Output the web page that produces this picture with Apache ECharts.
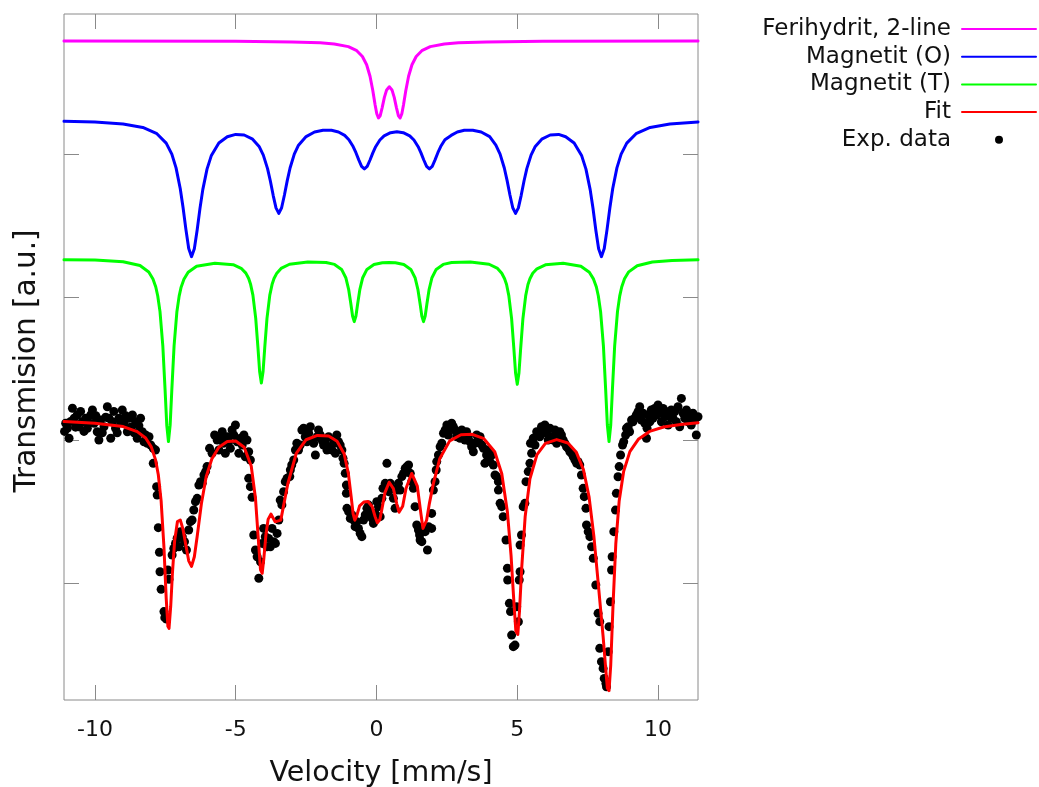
<!DOCTYPE html>
<html>
<head>
<meta charset="utf-8">
<script src="https://cdn.jsdelivr.net/npm/echarts@6/dist/echarts.min.js"></script>
<style>
html,body{margin:0;padding:0;background:#ffffff;}
#chart{width:1039px;height:787px;}
</style>
</head>
<body>
<div id="chart"></div>
<script>
// ---------- data (velocity [mm/s], transmission [a.u.]) ----------
const xTickValues = [-10, -5, 0, 5, 10];
const yTickValues = [0, 1, 2, 3];
const seriesNames = ['Ferihydrit, 2-line', 'Magnetit (O)', 'Magnetit (T)', 'Fit', 'Exp. data'];

const ferihydrit = [[-11.1,3.7895],[-5,3.7876],[-3,3.7839],[-2,3.7776],[-1.5,3.7697],[-1.0,3.7507],[-0.7,3.7224],[-0.5,3.6822],[-0.35,3.6244],[-0.23,3.5439],[-0.13,3.442],[-0.05,3.3441],[0.01,3.2814],[0.07,3.2519],[0.13,3.2665],[0.2,3.323],[0.28,3.3964],[0.36,3.4482],[0.455,3.4702],[0.55,3.4482],[0.63,3.3964],[0.71,3.323],[0.78,3.2665],[0.84,3.2519],[0.9,3.2814],[0.96,3.3441],[1.04,3.442],[1.14,3.5439],[1.26,3.6244],[1.41,3.6822],[1.61,3.7224],[1.91,3.7507],[2.41,3.7697],[2.91,3.7776],[3.91,3.7839],[5.91,3.7876],[11.42,3.7895]];

const magnetitO = [[-11.1,3.2295],[-10,3.223],[-9,3.210],[-8.3,3.1855],[-7.8,3.142],[-7.47,3.076],[-7.27,2.999],[-7.12,2.903],[-6.97,2.757],[-6.87,2.624],[-6.77,2.473],[-6.67,2.339],[-6.57,2.282],[-6.47,2.337],[-6.37,2.469],[-6.27,2.620],[-6.17,2.751],[-6.02,2.894],[-5.87,2.987],[-5.6,3.077],[-5.3,3.121],[-5.0,3.137],[-4.7,3.133],[-4.4,3.104],[-4.17,3.053],[-4.02,2.992],[-3.87,2.898],[-3.77,2.811],[-3.67,2.711],[-3.57,2.623],[-3.47,2.585],[-3.37,2.624],[-3.27,2.713],[-3.17,2.814],[-3.07,2.902],[-2.92,2.999],[-2.77,3.062],[-2.5,3.122],[-2.2,3.154],[-1.9,3.166],[-1.6,3.166],[-1.35,3.154],[-1.13,3.130],[-0.98,3.100],[-0.83,3.052],[-0.73,3.009],[-0.63,2.959],[-0.53,2.914],[-0.43,2.896],[-0.33,2.914],[-0.23,2.958],[-0.13,3.008],[-0.03,3.051],[0.12,3.098],[0.27,3.127],[0.5,3.149],[0.725,3.155],[0.95,3.149],[1.18,3.127],[1.33,3.098],[1.48,3.051],[1.58,3.008],[1.68,2.958],[1.78,2.914],[1.88,2.896],[1.98,2.914],[2.08,2.959],[2.18,3.009],[2.28,3.052],[2.43,3.100],[2.65,3.130],[2.87,3.154],[3.12,3.166],[3.42,3.166],[3.72,3.154],[4.02,3.122],[4.24,3.062],[4.39,2.999],[4.54,2.902],[4.64,2.814],[4.74,2.713],[4.84,2.624],[4.94,2.585],[5.04,2.623],[5.14,2.711],[5.24,2.811],[5.34,2.898],[5.49,2.992],[5.64,3.053],[5.87,3.104],[6.17,3.133],[6.47,3.137],[6.72,3.121],[7.02,3.077],[7.29,2.987],[7.44,2.894],[7.59,2.751],[7.69,2.620],[7.79,2.469],[7.89,2.337],[7.99,2.282],[8.09,2.339],[8.19,2.473],[8.29,2.624],[8.39,2.757],[8.54,2.903],[8.69,2.999],[8.89,3.076],[9.22,3.142],[9.72,3.186],[10.42,3.210],[11.42,3.224]];

const magnetitT = [[-11.1,2.261],[-10.0,2.258],[-9.0,2.246],[-8.4,2.220],[-8.09,2.175],[-7.94,2.126],[-7.84,2.070],[-7.77,2.007],[-7.69,1.898],[-7.59,1.659],[-7.51,1.352],[-7.45,1.105],[-7.39,0.989],[-7.33,1.104],[-7.27,1.351],[-7.19,1.658],[-7.09,1.897],[-7.01,2.006],[-6.94,2.069],[-6.84,2.124],[-6.69,2.173],[-6.39,2.215],[-5.74,2.236],[-5.09,2.226],[-4.79,2.198],[-4.64,2.167],[-4.54,2.129],[-4.47,2.087],[-4.39,2.013],[-4.29,1.851],[-4.21,1.644],[-4.15,1.477],[-4.09,1.399],[-4.03,1.477],[-3.97,1.644],[-3.89,1.851],[-3.79,2.013],[-3.71,2.087],[-3.64,2.129],[-3.54,2.167],[-3.39,2.200],[-3.09,2.229],[-2.44,2.245],[-1.79,2.241],[-1.49,2.228],[-1.24,2.193],[-1.09,2.135],[-0.99,2.054],[-0.91,1.951],[-0.85,1.867],[-0.79,1.828],[-0.73,1.867],[-0.67,1.951],[-0.59,2.054],[-0.49,2.135],[-0.34,2.193],[-0.09,2.227],[0.21,2.240],[0.44,2.241],[0.67,2.240],[0.97,2.227],[1.22,2.193],[1.37,2.135],[1.47,2.054],[1.55,1.951],[1.61,1.867],[1.67,1.828],[1.73,1.867],[1.79,1.951],[1.87,2.054],[1.97,2.135],[2.12,2.193],[2.37,2.228],[2.67,2.241],[3.335,2.245],[4.0,2.229],[4.3,2.200],[4.45,2.166],[4.55,2.128],[4.62,2.087],[4.7,2.010],[4.8,1.847],[4.88,1.637],[4.94,1.468],[5.0,1.389],[5.06,1.468],[5.12,1.637],[5.2,1.847],[5.3,2.010],[5.38,2.087],[5.45,2.128],[5.55,2.166],[5.7,2.197],[6.0,2.225],[6.63,2.236],[7.26,2.215],[7.56,2.173],[7.71,2.125],[7.81,2.070],[7.88,2.007],[7.96,1.898],[8.06,1.659],[8.14,1.352],[8.2,1.105],[8.26,0.989],[8.32,1.105],[8.38,1.352],[8.46,1.659],[8.56,1.898],[8.64,2.008],[8.71,2.070],[8.81,2.127],[8.96,2.176],[9.26,2.219],[9.8,2.245],[10.5,2.255],[11.42,2.260]];

const fit = [[-11.1,1.129],[-10,1.118],[-9,1.094],[-8.5,1.059],[-8.2,1.014],[-8.0,0.952],[-7.85,0.863],[-7.75,0.757],[-7.65,0.575],[-7.55,0.252],[-7.47,-0.106],[-7.41,-0.303],[-7.37,-0.317],[-7.31,-0.164],[-7.25,0.063],[-7.17,0.296],[-7.07,0.430],[-6.97,0.441],[-6.87,0.373],[-6.77,0.263],[-6.67,0.155],[-6.57,0.116],[-6.47,0.184],[-6.37,0.325],[-6.22,0.554],[-6.05,0.743],[-5.85,0.867],[-5.6,0.950],[-5.3,0.989],[-5.0,0.993],[-4.7,0.950],[-4.45,0.818],[-4.3,0.595],[-4.2,0.313],[-4.12,0.092],[-4.06,0.068],[-4.0,0.175],[-3.93,0.332],[-3.85,0.445],[-3.75,0.482],[-3.6,0.428],[-3.4,0.440],[-3.15,0.694],[-2.85,0.907],[-2.5,1.002],[-2.1,1.032],[-1.7,1.028],[-1.4,0.992],[-1.15,0.904],[-1.0,0.767],[-0.9,0.604],[-0.83,0.484],[-0.77,0.439],[-0.7,0.471],[-0.6,0.540],[-0.45,0.566],[-0.3,0.570],[-0.15,0.533],[-0.05,0.465],[0.03,0.421],[0.07,0.420],[0.12,0.444],[0.2,0.525],[0.3,0.632],[0.45,0.705],[0.6,0.660],[0.72,0.554],[0.8,0.495],[0.86,0.491],[0.93,0.537],[1.05,0.663],[1.25,0.766],[1.45,0.677],[1.58,0.481],[1.65,0.382],[1.71,0.372],[1.78,0.439],[1.88,0.557],[2.02,0.695],[2.25,0.871],[2.6,0.994],[3.0,1.037],[3.4,1.040],[3.8,1.012],[4.2,0.918],[4.45,0.764],[4.65,0.497],[4.78,0.192],[4.88,-0.132],[4.95,-0.336],[5.02,-0.360],[5.08,-0.195],[5.16,0.112],[5.28,0.463],[5.45,0.728],[5.7,0.898],[6.0,0.977],[6.4,1.003],[6.8,0.979],[7.1,0.914],[7.35,0.793],[7.55,0.603],[7.72,0.329],[7.85,0.053],[7.95,-0.162],[8.05,-0.375],[8.13,-0.570],[8.2,-0.735],[8.26,-0.752],[8.32,-0.575],[8.4,-0.163],[8.5,0.273],[8.62,0.574],[8.78,0.781],[9.0,0.919],[9.3,1.005],[9.7,1.060],[10.2,1.091],[10.8,1.109],[11.42,1.121]];

const expData = [[-11.08,1.06],[-11.04,1.117],[-10.98,1.082],[-10.92,1.012],[-10.86,1.13],[-10.80,1.222],[-10.74,1.152],[-10.69,1.09],[-10.63,1.175],[-10.57,1.093],[-10.51,1.20],[-10.45,1.128],[-10.39,1.06],[-10.33,1.152],[-10.27,1.082],[-10.21,1.12],[-10.15,1.175],[-10.09,1.210],[-10.03,1.117],[-9.97,1.17],[-9.92,1.058],[-9.86,1.000],[-9.80,1.140],[-9.74,1.05],[-9.68,1.093],[-9.62,1.16],[-9.56,1.233],[-9.50,1.152],[-9.44,1.012],[-9.38,1.128],[-9.33,1.20],[-9.27,1.082],[-9.21,1.05],[-9.15,1.152],[-9.09,1.12],[-9.03,1.210],[-8.97,1.117],[-8.91,1.17],[-8.85,1.058],[-8.79,1.152],[-8.73,1.09],[-8.67,1.175],[-8.61,1.05],[-8.56,1.128],[-8.50,1.012],[-8.44,1.10],[-8.38,1.152],[-8.32,1.058],[-8.26,0.988],[-8.20,1.035],[-8.14,0.977],[-8.08,1.023],[-8.02,0.965],[-7.93,0.942],[-7.85,0.930],[-7.93,0.837],[-7.81,0.674],[-7.79,0.615],[-7.75,0.387],[-7.71,0.215],[-7.69,0.079],[-7.65,-0.044],[-7.55,-0.200],[-7.52,-0.242],[-7.46,-0.252],[-7.41,0.091],[-7.37,0.026],[-7.26,0.196],[-7.20,0.242],[-7.14,0.277],[-7.08,0.313],[-7.02,0.254],[-6.96,0.359],[-6.90,0.324],[-6.82,0.289],[-6.75,0.231],[-6.67,0.371],[-6.61,0.429],[-6.55,0.441],[-6.49,0.511],[-6.43,0.569],[-6.37,0.592],[-6.31,0.685],[-6.25,0.709],[-6.19,0.697],[-6.13,0.755],[-6.07,0.779],[-6.02,0.814],[-5.93,0.942],[-5.84,0.907],[-5.75,1.035],[-5.66,1.000],
[-5.60,0.930],[-5.54,1.012],[-5.48,1.058],[-5.43,0.977],[-5.37,0.907],[-5.31,1.023],[-5.25,0.988],[-5.19,0.942],[-5.13,1.070],[-5.07,1.035],[-5.01,1.105],[-4.95,0.988],[-4.89,0.907],[-4.83,1.012],[-4.77,0.965],[-4.71,1.035],[-4.66,0.883],[-4.60,1.000],[-4.54,0.918],[-4.48,0.860],[-4.54,0.732],[-4.48,0.674],[-4.42,0.599],[-4.36,0.336],[-4.30,0.231],[-4.24,0.184],[-4.18,0.033],[-4.12,0.149],[-4.06,0.277],[-4.01,0.382],[-3.95,0.324],[-3.89,0.254],[-3.83,0.312],[-3.77,0.254],[-3.71,0.382],[-3.65,0.289],[-3.59,0.277],[-3.53,0.347],[-3.47,0.441],[-3.42,0.580],[-3.36,0.546],[-3.30,0.639],[-3.24,0.709],[-3.18,0.732],[-3.08,0.744],[-3.06,0.790],[-3.01,0.825],[-2.94,0.860],[-2.88,0.930],[-2.83,0.977],[-2.77,0.930],[-2.71,0.965],[-2.65,1.070],[-2.59,1.082],[-2.53,1.023],[-2.47,0.988],[-2.41,1.047],[-2.35,1.093],[-2.29,1.000],[-2.23,0.977],[-2.17,0.895],[-2.11,1.023],[-2.06,1.070],[-2.00,1.035],[-1.94,1.000],[-1.88,0.965],[-1.82,0.988],[-1.76,0.930],[-1.70,1.023],[-1.64,0.953],[-1.58,0.930],[-1.52,0.977],[-1.46,0.907],[-1.41,1.035],[-1.35,0.988],[-1.29,0.965],
[-1.23,0.930],[-1.19,0.872],[-1.15,0.837],[-1.11,0.767],[-1.07,0.685],[-1.07,0.627],[-1.05,0.522],[-0.99,0.499],[-0.93,0.452],[-0.87,0.476],[-0.81,0.441],[-0.76,0.394],[-0.70,0.429],[-0.64,0.382],[-0.58,0.347],[-0.52,0.324],[-0.46,0.441],[-0.40,0.476],[-0.34,0.522],[-0.28,0.545],[-0.22,0.499],[-0.16,0.452],[-0.11,0.417],[-0.05,0.487],[0.01,0.569],[0.07,0.534],[0.13,0.464],[0.19,0.592],[0.23,0.662],[0.31,0.697],[0.37,0.837],[0.43,0.639],[0.49,0.697],[0.55,0.662],[0.60,0.592],[0.66,0.522],[0.72,0.650],[0.78,0.697],[0.84,0.650],[0.90,0.744],[0.96,0.767],[1.02,0.802],[1.08,0.814],[1.14,0.825],[1.20,0.767],[1.25,0.709],[1.31,0.662],[1.37,0.534],[1.43,0.406],[1.49,0.371],[1.53,0.336],[1.55,0.301],[1.61,0.289],[1.67,0.382],[1.73,0.359],[1.81,0.231],[1.85,0.394],
[1.96,0.382],[1.96,0.487],[2.02,0.650],[2.08,0.709],[2.12,0.790],[2.14,0.849],[2.20,0.895],[2.26,0.953],[2.32,0.977],[2.38,1.047],[2.44,1.070],[2.50,1.105],[2.55,1.035],[2.61,1.082],[2.67,1.117],[2.73,1.093],[2.79,1.070],[2.85,1.023],[2.91,1.047],[2.97,1.012],[3.03,1.070],[3.09,1.035],[3.14,1.000],[3.20,1.058],[3.26,1.023],[3.32,0.988],[3.38,0.953],[3.44,0.918],[3.50,0.977],[3.56,1.035],[3.62,1.000],[3.68,1.023],[3.74,0.965],[3.80,0.942],[3.85,0.837],[3.91,0.895],[3.97,0.930],[4.03,0.849],[4.09,0.895],[4.15,0.825],[4.21,0.755],[4.27,0.744],[4.33,0.709],[4.33,0.650],[4.39,0.557],[4.45,0.534],[4.50,0.464],[4.60,0.301],[4.65,0.103],[4.66,0.021],[4.72,-0.142],[4.76,-0.200],[4.80,-0.364],[4.86,-0.445],[4.92,-0.434],[4.98,-0.166],[5.04,-0.271],[5.07,0.021],[5.10,0.079],[5.10,0.266],[5.15,0.336],[5.21,0.534],[5.27,0.557],[5.31,0.709],[5.39,0.779],[5.45,0.837],[5.47,0.977],[5.51,0.907],[5.57,1.012],[5.63,0.965],[5.69,1.058],[5.75,1.035],[5.80,1.023],[5.86,1.093],[5.92,1.058],[5.98,1.105],[6.04,1.047],[6.10,1.000],[6.16,1.082],[6.22,1.023],[6.28,1.000],[6.34,1.070],[6.40,0.977],[6.45,1.035],
[6.51,1.058],[6.57,1.035],[6.63,1.000],[6.69,0.977],[6.75,0.953],[6.81,0.942],[6.87,0.918],[6.93,0.907],[6.99,0.883],[7.05,0.860],[7.11,0.837],[7.16,0.848],[7.22,0.825],[7.28,0.755],[7.34,0.662],[7.38,0.604],[7.44,0.522],[7.46,0.406],[7.52,0.359],[7.58,0.324],[7.64,0.254],[7.70,0.173],[7.79,-0.014],[7.87,-0.212],[7.93,-0.270],[7.93,-0.457],[7.99,-0.550],[8.05,-0.597],[8.09,-0.667],[8.15,-0.702],[8.17,-0.725],[8.23,-0.480],[8.26,-0.305],[8.31,-0.131],[8.35,0.091],[8.37,0.184],[8.43,0.359],[8.49,0.510],[8.52,0.627],[8.58,0.743],[8.62,0.814],[8.67,0.895],[8.74,0.965],[8.78,0.988],[8.85,1.035],[8.88,1.082],[8.94,1.093],[8.99,1.058],[9.06,1.140],[9.11,1.128],[9.17,1.152],[9.23,1.175],[9.29,1.198],[9.35,1.233],[9.41,1.140],[9.47,1.187],[9.53,1.117],[9.59,1.012],[9.61,1.082],[9.65,1.175],[9.71,1.128],[9.76,1.210],[9.82,1.152],[9.88,1.221],[9.94,1.175],[10.00,1.245],[10.06,1.187],[10.12,1.128],[10.18,1.221],[10.24,1.163],[10.30,1.198],[10.36,1.105],[10.42,1.163],[10.47,1.210],[10.53,1.152],[10.59,1.198],[10.65,1.128],[10.71,1.233],[10.77,1.093],[10.83,1.291],[10.89,1.187],[10.95,1.152],[11.01,1.210],[11.07,1.128],[11.12,1.163],[11.18,1.105],[11.24,1.187],[11.30,1.140],[11.36,1.035],[11.42,1.163]];

// ---------- chart ----------
const FONT = 'DejaVu Sans';
const FRAME = '#8a8a8a';
const TEXT = '#111111';
const X_MIN = -11.1, X_MAX = 11.42;
const Y_MIN = -0.818, Y_MAX = 3.979;

const chart = echarts.init(document.getElementById('chart'), null, {renderer: 'canvas'});

function ticks(values) {
  return {show: true, inside: true, length: 15, lineStyle: {color: FRAME, width: 1}, customValues: values};
}
function baseAxis(extra) {
  return Object.assign({
    type: 'value',
    axisLine: {show: false, onZero: false},
    splitLine: {show: false},
    axisLabel: {show: false}
  }, extra);
}

const xBottom = baseAxis({
  position: 'bottom', min: X_MIN, max: X_MAX,
  axisTick: ticks(xTickValues),
  axisLabel: {show: true, customValues: xTickValues, fontFamily: FONT, fontSize: 22, color: TEXT, margin: 19},
  name: 'Velocity [mm/s]', nameLocation: 'middle', nameGap: 59,
  nameTextStyle: {fontFamily: FONT, fontSize: 28.5, color: TEXT}
});
const xTop = baseAxis({position: 'top', min: X_MIN, max: X_MAX, axisTick: ticks(xTickValues)});
const yLeft = baseAxis({
  position: 'left', min: Y_MIN, max: Y_MAX,
  axisTick: ticks(yTickValues),
  name: 'Transmision [a.u.]', nameLocation: 'middle', nameRotate: 90, nameGap: 22,
  nameTextStyle: {fontFamily: FONT, fontSize: 29.5, color: TEXT, padding: [0, 8, 0, 0]}
});
const yRight = baseAxis({position: 'right', min: Y_MIN, max: Y_MAX, axisTick: ticks(yTickValues)});

function lineSeries(name, data, color) {
  return {
    name: name, type: 'line', data: data,
    xAxisIndex: 0, yAxisIndex: 0,
    symbol: 'none', showSymbol: false, smooth: false,
    lineStyle: {color: color, width: 3, join: 'round', cap: 'round'},
    itemStyle: {color: color},
    emphasis: {disabled: true},
    silent: true
  };
}

const option = {
  animation: false,
  backgroundColor: '#ffffff',
  grid: {left: 64, right: 341, top: 14, bottom: 87, show: true, borderColor: FRAME, borderWidth: 1,
         backgroundColor: 'transparent', containLabel: false, outerBoundsMode: 'none'},
  xAxis: [xBottom, xTop],
  yAxis: [yLeft, yRight],
  legend: {
    orient: 'vertical', right: 2, top: 17.5, align: 'right', padding: 0,
    itemWidth: 74, itemHeight: 8, itemGap: 4.7,
    textStyle: {fontFamily: FONT, fontSize: 23, color: TEXT, padding: [0, 6, 0, 0]},
    selectedMode: false,
    data: [
      {name: seriesNames[0], itemStyle: {opacity: 0}},
      {name: seriesNames[1], itemStyle: {opacity: 0}},
      {name: seriesNames[2], itemStyle: {opacity: 0}},
      {name: seriesNames[3], itemStyle: {opacity: 0}},
      {name: seriesNames[4], icon: 'circle', itemStyle: {color: '#000000', opacity: 1}}
    ]
  },
  series: [
    lineSeries(seriesNames[0], ferihydrit, '#ff00ff'),
    lineSeries(seriesNames[1], magnetitO, '#0000ff'),
    lineSeries(seriesNames[2], magnetitT, '#00ff00'),
    lineSeries(seriesNames[3], fit, '#ff0000'),
    {
      name: seriesNames[4], type: 'scatter', data: expData,
      xAxisIndex: 0, yAxisIndex: 0,
      symbol: 'circle', symbolSize: 9,
      itemStyle: {color: '#000000', opacity: 1},
      emphasis: {disabled: true},
      silent: true
    }
  ]
};
chart.setOption(option);
</script>
</body>
</html>
